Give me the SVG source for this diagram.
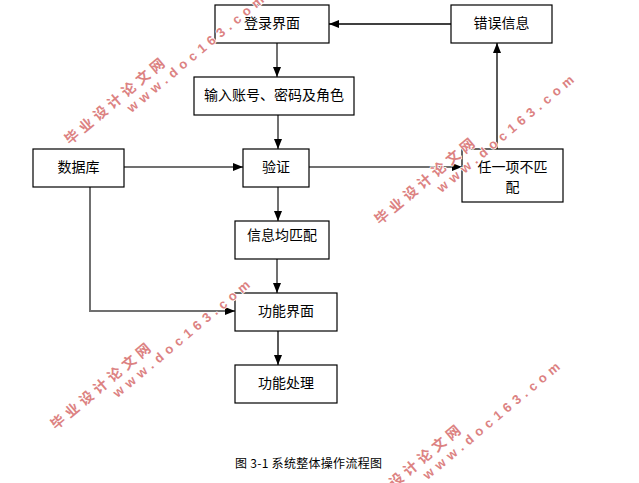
<svg xmlns="http://www.w3.org/2000/svg" xmlns:xlink="http://www.w3.org/1999/xlink" width="639" height="483" viewBox="0 0 639 483">
<style>
.box{fill:#fff;stroke:#000;stroke-width:1.2}
.t{font-family:"SimSun","Noto Sans CJK SC",sans-serif;font-size:14px;fill:#000;text-anchor:middle}
.cap{font-family:"SimSun","Noto Sans CJK SC",sans-serif;font-size:12px;fill:#000}
.g{fill:none;stroke:#707070;stroke-width:2}
.k{fill:none;stroke:#000;stroke-width:1.3}
.wm1{font-family:"Noto Sans CJK SC",sans-serif;font-weight:bold;font-size:14px;fill:#dc8282;stroke:#fff;stroke-width:1.5;paint-order:stroke}
.wm2{font-family:"Liberation Sans",Arial,sans-serif;font-weight:bold;font-size:13px;fill:#dc8282;stroke:#fff;stroke-width:1.5;paint-order:stroke}
</style>
<defs>
<marker id="ah" markerUnits="userSpaceOnUse" markerWidth="10" markerHeight="10" viewBox="0 0 10 10" refX="10" refY="5" orient="auto">
<path d="M0,1 L10,5 L0,9 Z" fill="#000"/>
</marker>
<g id="wm">
<text class="wm1" x="-7" y="5" textLength="125" lengthAdjust="spacing">毕业设计论文网</text>
<text class="wm2" x="61" y="20" textLength="174" lengthAdjust="spacing">www.doc163.com</text>
</g>
</defs>
<rect width="639" height="483" fill="#fff"/>
<g id="connectors">
<path class="g" d="M277,43 V77" marker-end="url(#ah)"/>
<path class="g" d="M278,115 V149" marker-end="url(#ah)"/>
<path class="g" d="M124,167 H243" marker-end="url(#ah)"/>
<path class="g" d="M309,167 H462" marker-end="url(#ah)"/>
<path class="k" d="M497,149 V43" marker-end="url(#ah)"/>
<path class="k" d="M451,24 H329" marker-end="url(#ah)"/>
<path class="g" d="M278,187 V221" marker-end="url(#ah)"/>
<path class="g" d="M277,259 V293" marker-end="url(#ah)"/>
<path class="g" d="M90,187 V311 H235" marker-end="url(#ah)"/>
<path class="k" d="M278,331 V365" marker-end="url(#ah)"/>
</g>
<g id="n-login"><rect class="box" x="215" y="5" width="114" height="38"/><text class="t" x="272" y="28">登录界面</text></g>
<g id="n-error"><rect class="box" x="451" y="5" width="101" height="38"/><text class="t" x="501.5" y="28">错误信息</text></g>
<g id="n-input"><rect class="box" x="194" y="77" width="160" height="38"/><text class="t" x="274" y="100">输入账号、密码及角色</text></g>
<g id="n-db"><rect class="box" x="33" y="149" width="91" height="38"/><text class="t" x="78.5" y="172">数据库</text></g>
<g id="n-verify"><rect class="box" x="243" y="149" width="66" height="38"/><text class="t" x="276" y="172">验证</text></g>
<g id="n-mismatch"><rect class="box" x="462" y="149" width="101" height="53"/><text class="t" x="512.5" y="172">任一项不匹</text><text class="t" x="512.5" y="192">配</text></g>
<g id="n-match"><rect class="box" x="235" y="221" width="94" height="38"/><text class="t" x="282" y="240">信息均匹配</text></g>
<g id="n-func"><rect class="box" x="235" y="293" width="102" height="38"/><text class="t" x="286" y="316">功能界面</text></g>
<g id="n-proc"><rect class="box" x="235" y="365" width="102" height="38"/><text class="t" x="286" y="388">功能处理</text></g>
<text class="cap" x="235" y="468" textLength="147" lengthAdjust="spacing">图 3-1 系统整体操作流程图</text>
<g id="watermarks">
<use xlink:href="#wm" transform="translate(72,137) rotate(-40)"/>
<use xlink:href="#wm" transform="translate(382,217) rotate(-40)"/>
<use xlink:href="#wm" transform="translate(58,422) rotate(-40)"/>
<use xlink:href="#wm" transform="translate(368,504) rotate(-40)"/>
</g>
</svg>
